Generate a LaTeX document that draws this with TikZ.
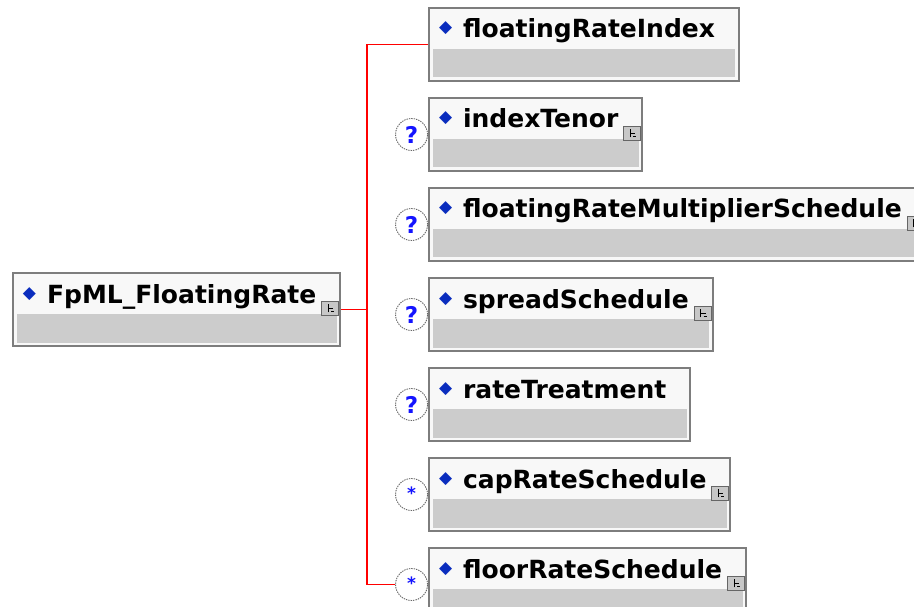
\documentclass[tikz,border=0pt]{standalone}
\usepackage{fontspec}
\setsansfont{DejaVu Sans}
\usepackage{xcolor}
\usetikzlibrary{positioning,calc}
\definecolor{elemgray}{RGB}{125,125,125}
\definecolor{bandgray}{RGB}{204,204,204}
\definecolor{titlewhite}{RGB}{248,248,248}
\definecolor{diamblue}{RGB}{10,45,190}
\definecolor{optblue}{RGB}{20,20,255}
\newcommand{\elemdiam}{{\fontsize{17}{17}\selectfont\textcolor{diamblue}{\raisebox{5pt}{◆}}}\hspace{11pt}}
\tikzset{
  elem/.style   = {draw=elemgray, line width=2pt, fill=titlewhite, anchor=north west, inner xsep=10pt, inner ysep=8pt,
                   font=\sffamily\bfseries\fontsize{25}{28}\selectfont, text height=22pt, text depth=35pt,
                   execute at begin node=\elemdiam, execute at end node=\hspace*{14pt},
                   path picture={\fill[bandgray] ($(path picture bounding box.south west)+(3.5pt,3.5pt)$) rectangle ($(path picture bounding box.north east)+(-3.5pt,-41pt)$);}},
  expico/.style = {draw=black!60, line width=1.2pt, fill=black!22, minimum width=17pt, minimum height=14pt, inner sep=0pt, anchor=south east,
                   path picture={\draw[black, line width=0.9pt] ($(path picture bounding box.center)+(-2pt,-4pt)$) -- ++(0,8pt) ++(0,-4pt) -- ++(5pt,0) ++(-2pt,-3pt) -- ++(3pt,0);}},
  opt/.style    = {circle, draw=black!60, line width=0.9pt, dash pattern=on 1.4pt off 1pt, fill=white, minimum size=32pt, inner sep=0pt, text=optblue,
                   font=\sffamily\bfseries\fontsize{23}{23}\selectfont},
  seq/.style    = {draw=red, line width=1.8pt},
}
\begin{document}
\begin{tikzpicture}[x=1pt, y=1pt]
  \useasboundingbox (0,0) rectangle (914,-607);
  \node[elem] (root) at (12,-272) {FpML\_FloatingRate};
  \node[expico] at ($(root.north east)+(-2pt,-44pt)$) {};
  \node[elem] (fri) at (428,-7) {floatingRateIndex};
  \node[elem, below=15pt of fri.south west, anchor=north west] (tenor) {indexTenor};
  \node[elem, below=15pt of tenor.south west, anchor=north west] (mult) {floatingRateMultiplierSchedule};
  \node[elem, below=15pt of mult.south west, anchor=north west] (spread) {spreadSchedule};
  \node[elem, below=15pt of spread.south west, anchor=north west] (treat) {rateTreatment};
  \node[elem, below=15pt of treat.south west, anchor=north west] (cap) {capRateSchedule};
  \node[elem, below=15pt of cap.south west, anchor=north west] (floor) {floorRateSchedule};
  \node[expico] at ($(tenor.north east)+(-2pt,-44pt)$) {};
  \node[expico] at ($(mult.north east)+(-2pt,-44pt)$) {};
  \node[expico] at ($(spread.north east)+(-2pt,-44pt)$) {};
  \node[expico] at ($(cap.north east)+(-2pt,-44pt)$) {};
  \node[expico] at ($(floor.north east)+(-2pt,-44pt)$) {};
  \node[opt, left=0pt of tenor] (tenorq) {?};
  \node[opt, left=0pt of mult] (multq) {?};
  \node[opt, left=0pt of spread] (spreadq) {?};
  \node[opt, left=0pt of treat] (treatq) {?};
  \node[opt, left=0pt of cap, font=\sffamily\bfseries\fontsize{17}{17}\selectfont] (capq) {\raisebox{2pt}{*}};
  \node[opt, left=0pt of floor, font=\sffamily\bfseries\fontsize{17}{17}\selectfont] (floorq) {\raisebox{2pt}{*}};
  \draw[seq] (root.east) -- ++(26pt,0) |- (fri.west);
  \draw[seq] (root.east) -- ++(26pt,0) |- (floorq.west);
\end{tikzpicture}
\end{document}
